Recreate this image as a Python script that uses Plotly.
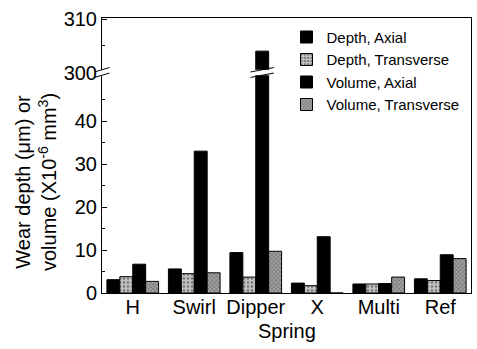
import plotly.graph_objects as go

springs = ["H", "Swirl", "Dipper", "X", "Multi", "Ref"]
depth_axial = [3.1, 5.6, 9.4, 2.3, 2.1, 3.3]
depth_transverse = [3.8, 4.5, 3.7, 1.7, 2.1, 2.9]
volume_axial = [6.7, 33.0, 304.0, 13.1, 2.2, 8.9]
volume_transverse = [2.7, 4.7, 9.7, 0.0, 3.7, 8.0]

series = [
    ("Depth, Axial", depth_axial, dict(color="#000000", pattern=None)),
    ("Depth, Transverse", depth_transverse,
     dict(color="#b8b8b8", pattern=dict(shape=".", fgcolor="#202020", bgcolor="#c4c4c4", size=4, solidity=0.35))),
    ("Volume, Axial", volume_axial, dict(color="#000000", pattern=None)),
    ("Volume, Transverse", volume_transverse,
     dict(color="#909090", pattern=dict(shape="x", fgcolor="#4a4a4a", bgcolor="#a8a8a8", size=3, solidity=0.5))),
]

FONT = "Liberation Sans, Arial, sans-serif"
W, H = 477, 349
ML, MR, MT, MB = 102, 6, 18, 56
plot_h = H - MT - MB
lower_frac = (293 - 72.5) / plot_h
bargap = 0.16

fig = go.Figure()
for name, vals, style in series:
    m = dict(color=style["color"], line=dict(color="black", width=1))
    if style["pattern"]:
        m["pattern"] = style["pattern"]
    fig.add_trace(go.Bar(x=springs, y=vals, name=name, marker=m, xaxis="x", yaxis="y"))
    fig.add_trace(go.Bar(x=springs, y=vals, name=name, marker=m, xaxis="x2", yaxis="y2",
                         showlegend=False))

tick_font = dict(family=FONT, size=20, color="black")
fig.update_layout(
    width=W, height=H,
    margin=dict(l=ML, r=MR, t=MT, b=MB),
    paper_bgcolor="white", plot_bgcolor="white",
    barmode="group", bargap=bargap, bargroupgap=0,
    font=dict(family=FONT, color="black"),
    xaxis=dict(domain=[0, 1], anchor="y", showline=True, linecolor="black", linewidth=1,
               ticks="", tickfont=tick_font, showgrid=False, ticklabelstandoff=-4),
    xaxis2=dict(domain=[0, 1], anchor="y2", side="top", matches="x", overlaying="x",
                showline=True, linecolor="black", linewidth=1, showticklabels=False,
                ticks="", showgrid=False),
    yaxis=dict(domain=[0, lower_frac], range=[0, 51.3], tickvals=[0, 10, 20, 30, 40],
               showline=True, mirror=True, linecolor="black", linewidth=1,
               ticks="inside", ticklen=5, tickcolor="black", tickfont=tick_font,
               minor=dict(tickvals=[5, 15, 25, 35, 45], ticks="inside", ticklen=3, tickcolor="black"),
               showgrid=False, zeroline=False),
    yaxis2=dict(domain=[lower_frac, 1], range=[300, 310.2], tickvals=[300, 310],
                showline=True, mirror=True, linecolor="black", linewidth=1,
                ticks="inside", ticklen=5, tickcolor="black", tickfont=tick_font,
                minor=dict(tickvals=[305], ticks="inside", ticklen=3, tickcolor="black"),
                showgrid=False, zeroline=False),
    legend=dict(x=0.50, y=0.99, xanchor="left", yanchor="top", bgcolor="rgba(0,0,0,0)",
                font=dict(family=FONT, size=15, color="black"), tracegroupgap=0,
                itemwidth=30),
    showlegend=True,
)

# Axis titles
fig.add_annotation(text="Wear depth (\u03bcm) or<br>volume (X10<sup>-6</sup> mm<sup>3</sup>)",
                   xref="paper", yref="paper", x=(36 - ML) / (W - ML - MR), y=(293 - 182) / plot_h,
                   xanchor="center", yanchor="middle", textangle=-90, showarrow=False,
                   font=dict(family=FONT, size=20, color="black"))
fig.add_annotation(text="Spring", xref="paper", yref="paper", x=0.5, y=(293 - 331) / plot_h,
                   xanchor="center", yanchor="middle", showarrow=False,
                   font=dict(family=FONT, size=20, color="black"))

# Axis break marks on left axis
by = lower_frac
fig.add_shape(type="rect", xref="paper", yref="paper", x0=-0.012, x1=0.012, y0=by - 0.01, y1=by + 0.01,
              fillcolor="white", line=dict(width=0), layer="above")
for dy in (-0.01, 0.01):
    fig.add_shape(type="line", xref="paper", yref="paper", x0=-0.02, x1=0.02,
                  y0=by + dy - 0.008, y1=by + dy + 0.008, line=dict(color="black", width=1), layer="above")

# Break on the tall Dipper bar
idx = springs.index("Dipper")
group_w = 1 - bargap
bar_w = group_w / 4
cx = idx - group_w / 2 + 2.5 * bar_w
fig.add_shape(type="rect", xref="x", yref="paper", x0=cx - bar_w * 0.8, x1=cx + bar_w * 0.8,
              y0=by - 0.01, y1=by + 0.01, fillcolor="white", line=dict(width=0), layer="above")
for dy in (-0.01, 0.01):
    fig.add_shape(type="line", xref="x", yref="paper", x0=cx - bar_w * 0.9, x1=cx + bar_w * 0.9,
                  y0=by + dy - 0.008, y1=by + dy + 0.008, line=dict(color="black", width=1), layer="above")

fig.write_html("out.html")
